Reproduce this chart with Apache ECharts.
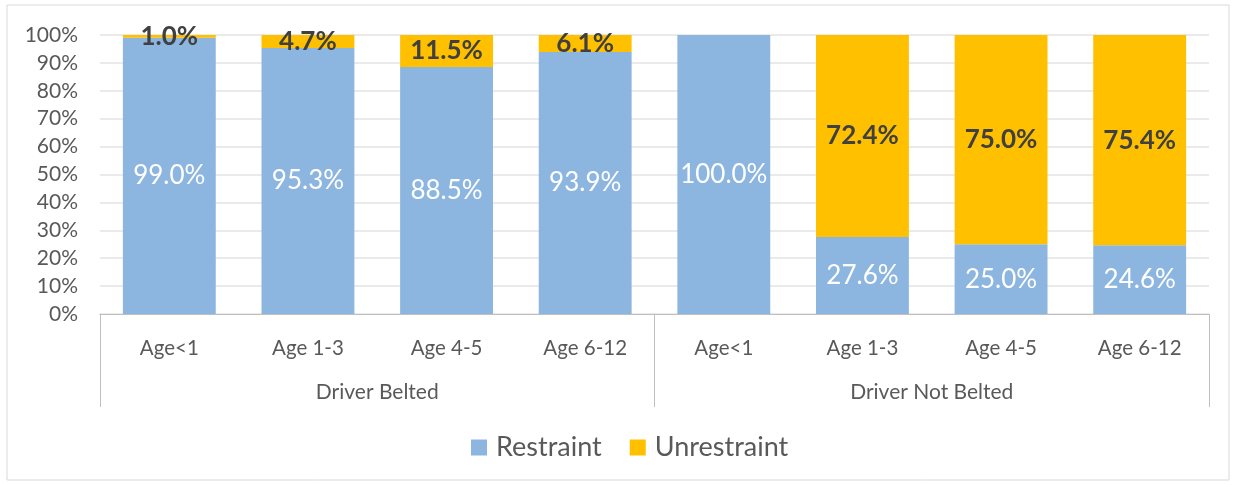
<!DOCTYPE html>
<html>
<head>
<meta charset="utf-8">
<script src="https://cdn.jsdelivr.net/npm/echarts@6/dist/echarts.min.js"></script>
<style>
  html, body { margin: 0; padding: 0; background: #fff; }
  #chart { width: 1234px; height: 485px; }
</style>
</head>
<body>
<div id="chart"></div>
<script>
// data
const ageGroups = ['Age<1', 'Age 1-3', 'Age 4-5', 'Age 6-12', 'Age<1', 'Age 1-3', 'Age 4-5', 'Age 6-12']
const driverGroups = ['Driver Belted', 'Driver Not Belted']
const restraint = [99.0, 95.3, 88.5, 93.9, 100.0, 27.6, 25.0, 24.6]
const unrestraint = [1.0, 4.7, 11.5, 6.1, null, 72.4, 75.0, 75.4]

const font = 'Lato, "Open Sans", sans-serif'
const textGray = '#595959'
const lineGray = '#bfbfbf'

const chart = echarts.init(document.getElementById('chart'))

const option = {
  animation: false,
  textStyle: { fontFamily: font },
  graphic: [
    {
      type: 'rect',
      shape: { x: 7, y: 5, width: 1222, height: 475 },
      style: { fill: 'none', stroke: '#d9d9d9', lineWidth: 1 },
      silent: true
    }
  ],
  grid: {
    left: 100,
    right: 25,
    top: 35,
    bottom: 171
  },
  legend: {
    bottom: 19,
    left: 466,
    itemWidth: 16,
    itemHeight: 16,
    itemGap: 28,
    icon: 'rect',
    textStyle: { fontSize: 27, color: textGray, fontFamily: font, padding: [0, 0, 0, 4] },
    data: ['Restraint', 'Unrestraint']
  },
  xAxis: [
    {
      type: 'category',
      data: ageGroups,
      position: 'bottom',
      axisLine: { lineStyle: { color: lineGray } },
      axisTick: { show: false },
      axisLabel: { margin: 24, fontSize: 20.5, color: textGray, interval: 0 }
    },
    {
      type: 'category',
      data: driverGroups,
      position: 'bottom',
      offset: 0,
      axisLine: { lineStyle: { color: lineGray } },
      axisTick: { show: true, length: 93, lineStyle: { color: lineGray } },
      axisLabel: { margin: 68, fontSize: 21, color: textGray }
    }
  ],
  yAxis: {
    type: 'value',
    min: 0,
    max: 100,
    interval: 10,
    axisLine: { show: false },
    axisTick: { show: false },
    axisLabel: { formatter: '{value}%', fontSize: 21, color: textGray, margin: 22 },
    splitLine: { lineStyle: { color: '#e3e3e3', width: 1.5 } }
  },
  series: [
    {
      name: 'Restraint',
      type: 'bar',
      stack: 'total',
      xAxisIndex: 0,
      barWidth: '67%',
      data: restraint,
      itemStyle: { color: '#8cb6e0' },
      label: {
        show: true,
        position: 'inside',
        color: '#fff',
        fontSize: 26,
        fontFamily: font,
        formatter: (p) => p.value.toFixed(1) + '%'
      }
    },
    {
      name: 'Unrestraint',
      type: 'bar',
      stack: 'total',
      xAxisIndex: 0,
      barWidth: '67%',
      data: unrestraint,
      itemStyle: { color: '#ffc000' },
      label: {
        show: true,
        position: 'inside',
        color: '#404040',
        fontSize: 26,
        fontWeight: 'bold',
        fontFamily: font,
        formatter: (p) => (p.value == null ? '' : p.value.toFixed(1) + '%')
      }
    }
  ]
}

chart.setOption(option)
</script>
</body>
</html>
